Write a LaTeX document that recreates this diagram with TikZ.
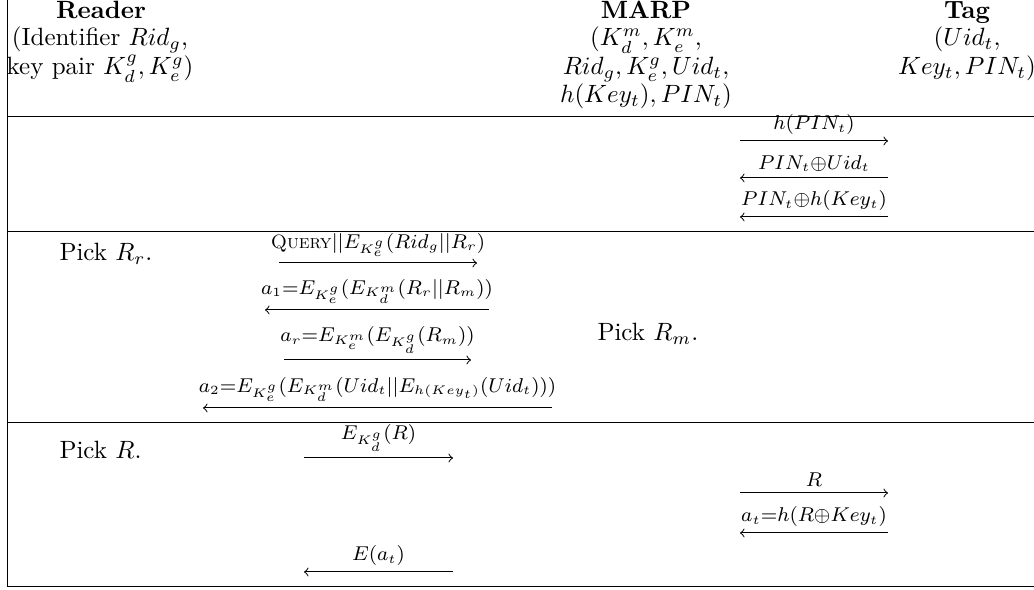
\documentclass[tikz,border=0pt]{standalone}
\usepackage{amsmath}
\begin{document}
\begin{tikzpicture}[x=0.4pt,y=-0.4pt,
  rule/.style={line width=0.4pt},
  hdr/.style={anchor=base, inner sep=0pt},
  txt/.style={anchor=base west, inner sep=0pt},
  lbl/.style={above=2.2pt, inner sep=0pt, font=\fontsize{11}{13}\selectfont},
  msg/.style={->, line width=0.4pt},
]
\useasboundingbox (0,0) rectangle (1034,590);
% table rules
\draw[rule] (7,0) -- (7,587);
\draw[rule] (7,117) -- (1034,117);
\draw[rule] (7,232) -- (1034,232);
\draw[rule] (7,423) -- (1034,423);
\draw[rule] (7,587) -- (1034,587);
% headers
\node[hdr] (rd1) at (101,19) {\textbf{Reader}};
\node[hdr] (rd2) at (100,46) {(Identifier $Rid_g$,};
\node[hdr] (rd3) at (100,75) {key pair $K_d^g, K_e^g$)};
\node[hdr] (mp1) at (646,19) {\textbf{MARP}};
\node[hdr] (mp2) at (646,46) {$(K_d^m, K_e^m,$};
\node[hdr] (mp3) at (646,75) {$Rid_g, K_e^g, Uid_t,$};
\node[hdr] (mp4) at (646,103) {$h(Key_t), PIN_t)$};
\node[hdr] (tg1) at (967,19) {\textbf{Tag}};
\node[hdr] (tg2) at (967,46) {$(Uid_t,$};
\node[hdr] (tg3) at (967,75) {$Key_t, PIN_t)$};
% row 1
\coordinate (m1a) at (740,141); \coordinate (m1b) at (888,141);
\coordinate (m2a) at (740,178); \coordinate (m2b) at (888,178);
\coordinate (m3a) at (740,217); \coordinate (m3b) at (888,217);
\draw[msg] (m1a) -- node[lbl] (l1) {$\scriptstyle h(PIN_t)$} (m1b);
\draw[msg] (m2b) -- node[lbl] (l2) {$\scriptstyle PIN_t\oplus Uid_t$} (m2a);
\draw[msg] (m3b) -- node[lbl] (l3) {$\scriptstyle PIN_t\oplus h(Key_t)$} (m3a);
% row 2
\node[txt] (pr) at (59,261) {Pick $R_r$.};
\node[txt] (pm) at (597,341) {Pick $R_m$.};
\coordinate (q1) at (279,263); \coordinate (q2) at (477,263);
\coordinate (a1a) at (265,310); \coordinate (a1b) at (489,310);
\coordinate (ara) at (284,360); \coordinate (arb) at (471,360);
\coordinate (a2a) at (203,408); \coordinate (a2b) at (552,408);
\draw[msg] (q1) -- node[lbl] (l4) {$\scriptstyle \text{\textsc{Query}}||E_{K_e^g}(Rid_g||R_r)$} (q2);
\draw[msg] (a1b) -- node[lbl] (l5) {$\scriptstyle a_1=E_{K_e^g}(E_{K_d^m}(R_r||R_m))$} (a1a);
\draw[msg] (ara) -- node[lbl] (l6) {$\scriptstyle a_r=E_{K_e^m}(E_{K_d^g}(R_m))$} (arb);
\draw[msg] (a2b) -- node[lbl] (l7) {$\scriptstyle a_2=E_{K_e^g}(E_{K_d^m}(Uid_t||E_{h(Key_t)}(Uid_t)))$} (a2a);
% row 3
\node[txt] (pp) at (59,459) {Pick $R$.};
\coordinate (e1a) at (304,458); \coordinate (e1b) at (453,458);
\coordinate (ra) at (740,493); \coordinate (rb) at (888,493);
\coordinate (ata) at (740,533); \coordinate (atb) at (888,533);
\coordinate (e2a) at (304,572); \coordinate (e2b) at (453,572);
\draw[msg] (e1a) -- node[lbl] (l8) {$\scriptstyle E_{K_d^g}(R)$} (e1b);
\draw[msg] (ra) -- node[lbl] (l9) {$\scriptstyle R$} (rb);
\draw[msg] (atb) -- node[lbl] (l10) {$\scriptstyle a_t=h(R\oplus Key_t)$} (ata);
\draw[msg] (e2b) -- node[lbl] (l11) {$\scriptstyle E(a_t)$} (e2a);
\end{tikzpicture}
\end{document}
